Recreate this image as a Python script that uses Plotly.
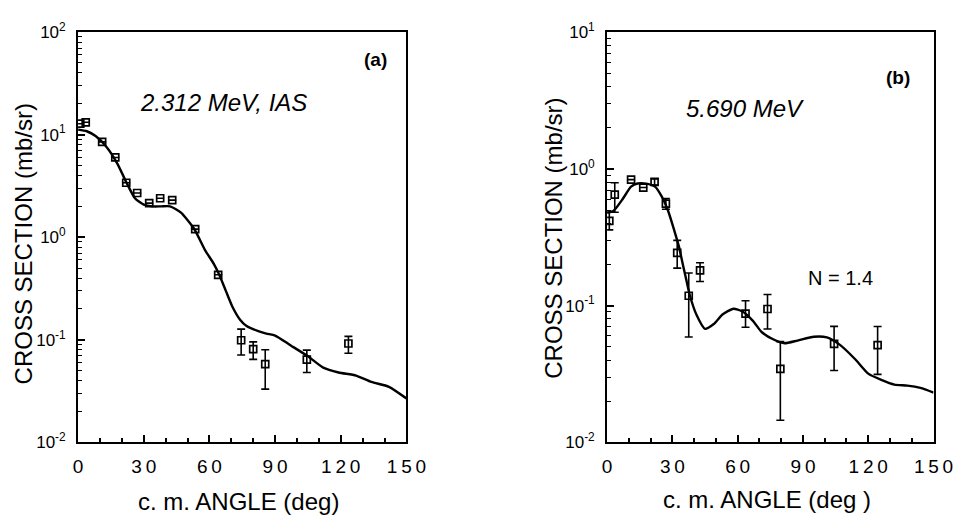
import plotly.graph_objects as go

# ---------------- data: panel (a) 2.312 MeV, IAS ----------------
a_fit_angle = [0, 4, 8, 13, 18, 22, 26, 30, 34, 38, 42, 47, 53, 58, 62, 64.5, 67.5,
               70.5, 74, 77, 82, 86, 90, 97, 105, 112, 119, 127, 134, 142, 150]
a_fit_xs = [11.2, 10.8, 9.7, 7.6, 5.2, 3.45, 2.4, 2.08, 2.0, 2.0, 2.0, 1.74, 1.21, 0.75,
            0.55, 0.43, 0.30, 0.21, 0.157, 0.136, 0.122, 0.115, 0.110, 0.0885, 0.069,
            0.0535, 0.048, 0.0448, 0.0388, 0.0348, 0.0268]

a_exp_angle = [1, 3.5, 11, 17, 22, 27, 32.5, 37.5, 43, 53.5, 64, 74.5, 80, 85.5, 104.5, 123.5]
a_exp_xs = [12.8, 13.2, 8.5, 6.0, 3.4, 2.7, 2.15, 2.4, 2.3, 1.2, 0.43,
            0.099, 0.081, 0.058, 0.064, 0.092]
a_err_plus = [None] * 11 + [0.028, 0.0143, 0.022, 0.0153, 0.016]
a_err_minus = [None] * 11 + [0.028, 0.0166, 0.025, 0.016, 0.018]

# ---------------- data: panel (b) 5.690 MeV ----------------
b_fit_angle = [0, 3, 7, 11, 14, 18, 22, 25, 28, 31, 33, 34.5, 36, 38, 41, 45, 49, 53, 58,
               62, 67, 71, 77, 81.5, 87.5, 95, 101, 107, 114, 120, 126, 132, 138, 144, 150]
b_fit_xs = [0.477, 0.494, 0.597, 0.741, 0.782, 0.78, 0.741, 0.631, 0.494, 0.348, 0.27,
            0.21, 0.164, 0.119, 0.086, 0.0676, 0.0733, 0.086, 0.0949, 0.0909, 0.0774,
            0.0641, 0.056, 0.053, 0.0555, 0.0592, 0.0585, 0.0516, 0.0405, 0.0318,
            0.0286, 0.0264, 0.026, 0.025, 0.0231]

b_exp_angle = [1, 3.5, 11, 16.6, 21.8, 27, 32.2, 37.5, 42.7, 63.6, 73.7, 79.6, 104.3, 124.3]
b_exp_xs = [0.417, 0.647, 0.834, 0.73, 0.803, 0.557, 0.243, 0.118, 0.181,
            0.0875, 0.0944, 0.0345, 0.0525, 0.0514]
b_err_plus = [0.065, 0.144, None, None, 0.04, 0.05, 0.057, 0.055, 0.025,
              0.021, 0.026, 0.020, 0.018, 0.019]
b_err_minus = [0.059, 0.165, None, None, 0.04, 0.05, 0.055, 0.059, 0.031,
               0.018, 0.027, 0.020, 0.019, 0.020]

x_ticks = [0, 30, 60, 90, 120, 150]
x_tick_text = ["\u2009".join(str(v)) for v in x_ticks]
a_y_ticks = [0.01, 0.1, 1, 10, 100]
a_y_tick_text = ["10<sup>-2</sup>", "10<sup>-1</sup>", "10<sup>0</sup>", "10<sup>1</sup>", "10<sup>2</sup>"]
b_y_ticks = [0.01, 0.1, 1, 10]
b_y_tick_text = ["10<sup>-2</sup>", "10<sup>-1</sup>", "10<sup>0</sup>", "10<sup>1</sup>"]

W, H = 974, 529
FONT = "Liberation Sans, Arial, Helvetica, sans-serif"

fig = go.Figure()

# panel (a)
fig.add_trace(go.Scatter(x=a_fit_angle, y=a_fit_xs, mode="lines",
                         line=dict(color="black", width=2.4, shape="spline", smoothing=0.6),
                         xaxis="x", yaxis="y", showlegend=False, hoverinfo="skip"))
fig.add_trace(go.Scatter(x=a_exp_angle, y=a_exp_xs, mode="markers",
                         marker=dict(symbol="square-open", size=7, color="black", line=dict(width=1.7)),
                         error_y=dict(type="data", symmetric=False, array=a_err_plus, arrayminus=a_err_minus,
                                      color="black", thickness=1.6, width=4),
                         xaxis="x", yaxis="y", showlegend=False))

# panel (b)
fig.add_trace(go.Scatter(x=b_fit_angle, y=b_fit_xs, mode="lines",
                         line=dict(color="black", width=2.4, shape="spline", smoothing=0.6),
                         xaxis="x2", yaxis="y2", showlegend=False, hoverinfo="skip"))
fig.add_trace(go.Scatter(x=b_exp_angle, y=b_exp_xs, mode="markers",
                         marker=dict(symbol="square-open", size=7, color="black", line=dict(width=1.7)),
                         error_y=dict(type="data", symmetric=False, array=b_err_plus, arrayminus=b_err_minus,
                                      color="black", thickness=1.6, width=4),
                         xaxis="x2", yaxis="y2", showlegend=False))

def px_x(p):
    return p / W

def px_y(p):
    return 1 - p / H

minor_log = [m * 10 ** e for e in range(-2, 2) for m in range(2, 10)]

xaxis_common = dict(range=[0, 150], tickmode="array", tickvals=x_ticks, ticktext=x_tick_text,
                    ticks="inside", ticklen=7, tickwidth=1.5, tickcolor="black",
                    minor=dict(tickmode="array", tickvals=[10, 20, 40, 50, 70, 80, 100, 110, 130, 140],
                               ticks="inside", ticklen=4, tickwidth=1.5, tickcolor="black"),
                    showline=True, linecolor="black", linewidth=2, mirror=True,
                    showgrid=False, zeroline=False, ticklabelstandoff=6,
                    tickfont=dict(family=FONT, size=19, color="black"), fixedrange=True)

yaxis_common = dict(type="log", tickmode="array",
                    ticks="inside", ticklen=7, tickwidth=1.5, tickcolor="black",
                    minor=dict(tickmode="array", tickvals=minor_log, ticks="inside", ticklen=4,
                               tickwidth=1.2, tickcolor="black"),
                    showline=True, linecolor="black", linewidth=2, mirror=True,
                    showgrid=False, zeroline=False, ticklabelstandoff=7,
                    tickfont=dict(family=FONT, size=17, color="black"), fixedrange=True)

ydom = [px_y(449), px_y(21)]

fig.update_layout(
    width=W, height=H,
    margin=dict(l=0, r=0, t=0, b=0),
    paper_bgcolor="white", plot_bgcolor="white",
    font=dict(family=FONT, color="black"),
    xaxis=dict(domain=[px_x(75), px_x(412)], anchor="y", **xaxis_common),
    yaxis=dict(domain=ydom, anchor="x", range=[-2, 2], tickvals=a_y_ticks, ticktext=a_y_tick_text, **yaxis_common),
    xaxis2=dict(domain=[px_x(618), px_x(953)], anchor="y2", **xaxis_common),
    yaxis2=dict(domain=ydom, anchor="x2", range=[-2, 1], tickvals=b_y_ticks, ticktext=b_y_tick_text, **yaxis_common),
)

annots = [
    dict(text="CROSS SECTION (mb/sr)", x=px_x(19), y=px_y(242), textangle=-90, size=24),
    dict(text="CROSS SECTION (mb/sr)", x=px_x(563), y=px_y(236), textangle=-90, size=24),
    dict(text="c. m. ANGLE (deg)", x=px_x(240), y=px_y(511), textangle=0, size=24),
    dict(text="c. m. ANGLE (deg )", x=px_x(782), y=px_y(509), textangle=0, size=24),
    dict(text="<i>2.312 MeV, IAS</i>", x=px_x(224), y=px_y(94), textangle=0, size=24),
    dict(text="<b>(a)</b>", x=px_x(380), y=px_y(50), textangle=0, size=19),
    dict(text="<i>5.690 MeV</i>", x=px_x(759), y=px_y(101), textangle=0, size=24),
    dict(text="<b>(b)</b>", x=px_x(917), y=px_y(68), textangle=0, size=19),
    dict(text="N = 1.4", x=px_x(857), y=px_y(278), textangle=0, size=20),
]
for a in annots:
    fig.add_annotation(text=a["text"], x=a["x"], y=a["y"], xref="paper", yref="paper",
                       xanchor="center", yanchor="middle", showarrow=False, textangle=a["textangle"],
                       font=dict(family=FONT, size=a["size"], color="black"))

fig.write_html("out.html", config={"displayModeBar": False})
